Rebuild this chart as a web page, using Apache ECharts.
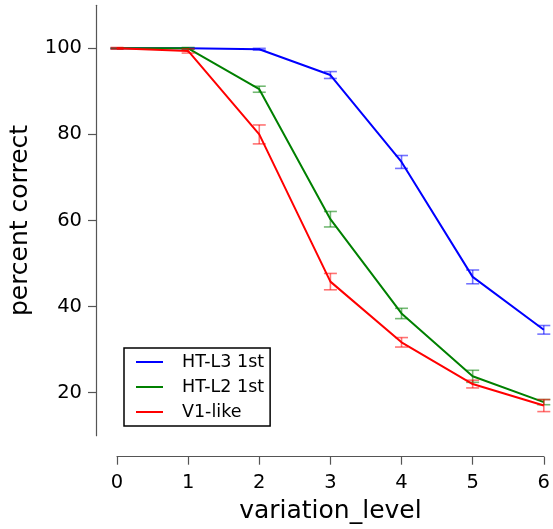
<!DOCTYPE html>
<html>
<head>
<meta charset="utf-8">
<script src="https://cdn.jsdelivr.net/npm/echarts@6/dist/echarts.min.js"></script>
<style>html,body{margin:0;padding:0;background:#fff}#c{width:553px;height:529px}</style>
</head>
<body>
<div id="c"></div>
<script>
const levels = [0, 1, 2, 3, 4, 5, 6];
const yTicks = [20, 40, 60, 80, 100];
const seriesNames = ['HT-L3 1st', 'HT-L2 1st', 'V1-like'];
const htl3 = [100, 100, 99.8, 93.8, 73.6, 46.9, 34.6];
const htl2 = [100, 100, 90.5, 60.3, 38.4, 23.8, 17.8];
const v1like = [100, 99.4, 80.0, 45.8, 31.7, 22.0, 17.0];
const htl3Err = [0.1, 0.1, 0.2, 0.8, 1.5, 1.6, 1.0];
const htl2Err = [0.1, 0.2, 0.7, 1.8, 1.2, 1.4, 0.6];
const v1Err = [0.2, 0.5, 2.2, 1.9, 1.1, 0.9, 1.4];
const colors = ['#0000ff', '#008000', '#ff0000'];
const errColors = ['rgba(0,0,255,0.55)', 'rgba(0,128,0,0.55)', 'rgba(255,0,0,0.55)'];

const FONT = 'DejaVu Sans';
const chart = echarts.init(document.getElementById('c'), null, {renderer: 'canvas'});

function lineData(vals) { return levels.map((x, i) => [x, vals[i]]); }
function errData(vals, errs) { return levels.map((x, i) => [x, vals[i] - errs[i], vals[i] + errs[i]]); }

function errSeries(idx, vals, errs) {
  return {
    type: 'custom',
    name: seriesNames[idx] + ' err',
    data: errData(vals, errs),
    z: 3 + idx,
    silent: true,
    renderItem: function (params, api) {
      const x = api.value(0);
      const lo = api.coord([x, api.value(1)]);
      const hi = api.coord([x, api.value(2)]);
      const hw = 6.5;
      const st = {stroke: errColors[idx], lineWidth: 1.6};
      return {
        type: 'group',
        children: [
          {type: 'line', shape: {x1: lo[0], y1: lo[1], x2: hi[0], y2: hi[1]}, style: st},
          {type: 'line', shape: {x1: lo[0] - hw, y1: lo[1], x2: lo[0] + hw, y2: lo[1]}, style: st},
          {type: 'line', shape: {x1: hi[0] - hw, y1: hi[1], x2: hi[0] + hw, y2: hi[1]}, style: st}
        ]
      };
    }
  };
}

function lineSeries(idx, vals) {
  return {
    type: 'line',
    name: seriesNames[idx],
    data: lineData(vals),
    showSymbol: false,
    symbol: 'none',
    z: 3 + idx,
    lineStyle: {color: colors[idx], width: 2},
    itemStyle: {color: colors[idx]},
    animation: false
  };
}

const option = {
  animation: false,
  backgroundColor: '#fff',
  grid: {left: 116, right: 6.5, top: 5.3, bottom: 93.3, containLabel: false},
  xAxis: {
    type: 'value',
    min: 0, max: 6, interval: 1,
    offset: 21,
    name: 'variation_level',
    nameLocation: 'middle',
    nameGap: 42,
    nameTextStyle: {fontFamily: FONT, fontSize: 25, color: '#000'},
    axisLine: {show: true, onZero: false, lineStyle: {color: '#555', width: 1.2}},
    axisTick: {show: true, length: 8, inside: false, lineStyle: {color: '#555', width: 1.2}},
    axisLabel: {fontFamily: FONT, fontSize: 19.5, color: '#000', margin: 16},
    splitLine: {show: false}
  },
  yAxis: {
    type: 'value',
    min: 10, max: 110,
    offset: 21,
    name: 'percent correct',
    nameLocation: 'middle',
    nameGap: 63,
    nameRotate: 90,
    nameTextStyle: {fontFamily: FONT, fontSize: 25, color: '#000'},
    axisLine: {show: true, onZero: false, lineStyle: {color: '#555', width: 1.2}},
    axisTick: {show: true, length: 8, customValues: yTicks, lineStyle: {color: '#555', width: 1.2}},
    axisLabel: {fontFamily: FONT, fontSize: 19.5, color: '#000', margin: 14, customValues: yTicks},
    splitLine: {show: false}
  },
  legend: {
    show: true,
    orient: 'vertical',
    left: 124,
    top: 348,
    data: seriesNames.map(n => ({name: n, icon: 'rect'})),
    itemWidth: 27,
    itemHeight: 2,
    itemGap: 7,
    padding: [5, 6, 5, 12],
    borderColor: '#000',
    borderWidth: 1.5,
    backgroundColor: '#fff',
    selectedMode: false,
    textStyle: {fontFamily: FONT, fontSize: 17.5, color: '#000', lineHeight: 18, padding: [0, 0, 0, 14]}
  },
  series: [
    lineSeries(0, htl3), errSeries(0, htl3, htl3Err),
    lineSeries(1, htl2), errSeries(1, htl2, htl2Err),
    lineSeries(2, v1like), errSeries(2, v1like, v1Err)
  ]
};
chart.setOption(option);
</script>
</body>
</html>
